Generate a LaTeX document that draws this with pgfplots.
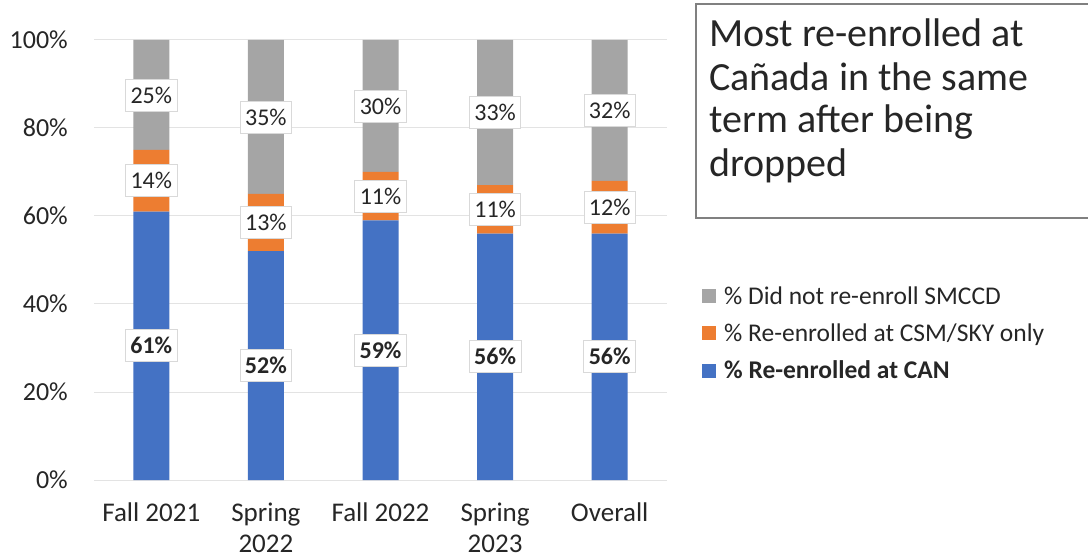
\documentclass[border=0pt]{standalone}
\usepackage{fontspec}
\setmainfont{Carlito}
\usepackage{pgfplots}
\pgfplotsset{compat=1.18}
\definecolor{cblue}{HTML}{4472C4}
\definecolor{corange}{HTML}{ED7D31}
\definecolor{cgray}{HTML}{A5A5A5}
\definecolor{gridc}{HTML}{E3E3E3}
\definecolor{txt}{HTML}{262626}
\begin{document}
\begin{tikzpicture}[x=1pt,y=1pt]
\path[use as bounding box] (-94,-80) rectangle (994,480);
\begin{axis}[
  at={(0,0)}, anchor=south west, scale only axis,
  width=573pt, height=440pt,
  ybar stacked, bar width=36pt,
  xmin=-0.5, xmax=4.5, ymin=0, ymax=100,
  xtick={0,1,2,3,4},
  xticklabels={Fall 2021, Spring\\2022, Fall 2022, Spring\\2023, Overall},
  ytick={0,20,40,60,80,100},
  yticklabel={\pgfmathprintnumber{\tick}\%},
  /pgf/number format/assume math mode=true,
  ymajorgrids, major grid style={draw=gridc, line width=1pt},
  axis line style={draw=none},
  tick style={draw=none},
  yticklabel style={inner sep=0pt, xshift=-26pt, font=\fontsize{26}{30}\selectfont, text=txt},
  xticklabel style={align=center, inner sep=0pt, yshift=-23pt, font=\fontsize{27}{31}\selectfont, text=txt},
  point meta=rawy,
  nodes near coords={\pgfmathprintnumber{\pgfplotspointmeta}\%},
  nodes near coords style={anchor=center,
     fill=white, draw=black!15, line width=0.8pt, text=txt,
     font=\fontsize{24}{28}\selectfont, inner xsep=5pt, minimum height=32pt},
  reverse legend,
  legend cell align=left,
  legend image code/.code={\fill[#1,draw=none] (0pt,-7pt) rectangle (14pt,7pt);},
  legend style={at={(1.061,0.445)}, anchor=north west, draw=none, fill=none,
     inner sep=0pt, font=\fontsize{25.5}{30}\selectfont, text=txt, row sep=14pt,
     /tikz/every odd column/.append style={column sep=6pt}},
]
\addplot[fill=cblue, draw=none, nodes near coords style={font=\fontsize{24}{28}\selectfont\bfseries}]
  coordinates {(0,61) (1,52) (2,59) (3,56) (4,56)};
\addlegendentry{\textbf{\% Re-enrolled at CAN}}
\addplot[fill=corange, draw=none]
  coordinates {(0,14) (1,13) (2,11) (3,11) (4,12)};
\addlegendentry{\% Re-enrolled at CSM/SKY only}
\addplot[fill=cgray, draw=none]
  coordinates {(0,25) (1,35) (2,30) (3,33) (4,32)};
\addlegendentry{\% Did not re-enroll SMCCD}
\end{axis}
\draw[black!50, line width=1.3pt] (1000,476) -- (602,476) -- (602,262) -- (1000,262);
\begin{scope}[every node/.style={anchor=base west, inner sep=0pt, text=txt, font=\fontsize{40}{44}\selectfont}]
\node at (615,433) {Most re-enrolled at};
\node at (615,389) {Cañada in the same};
\node at (615,347) {term after being};
\node at (615,303) {dropped};
\end{scope}
\end{tikzpicture}
\end{document}
